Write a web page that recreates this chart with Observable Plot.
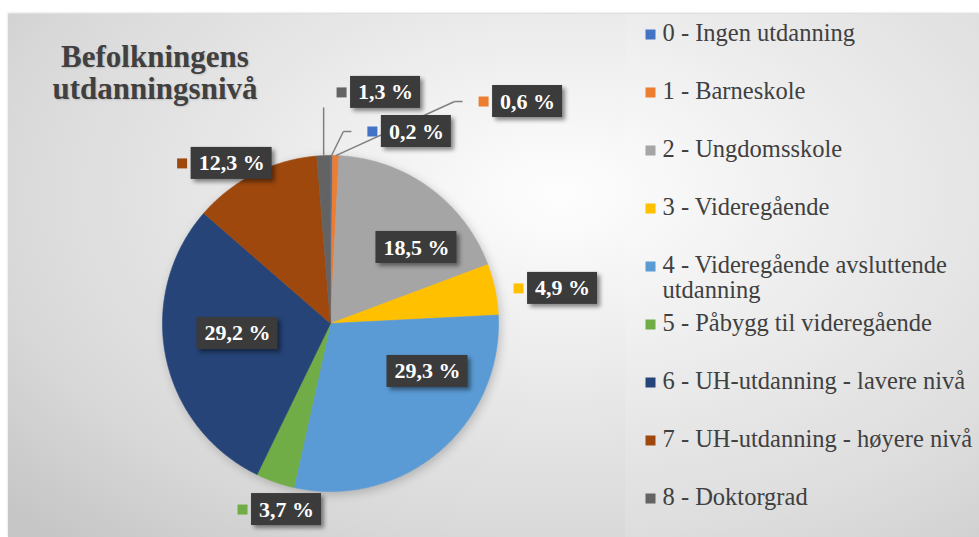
<!DOCTYPE html>
<html>
<head>
<meta charset="utf-8">
<script src="https://cdn.jsdelivr.net/npm/d3@7"></script>
<script src="https://cdn.jsdelivr.net/npm/@observablehq/plot@0.6"></script>
<style>
  html, body { margin: 0; padding: 0; background: #fff; }
  #chart { position: relative; width: 979px; height: 537px; overflow: hidden; background: #fff; }
  #panel {
    position: absolute; left: 8px; top: 14px; width: 971px; height: 523px;
    background: radial-gradient(ellipse 680px 420px at 552px 180px, #fefefe 0%, #f4f4f4 22%, #e6e6e6 52%, #d9d9d9 82%, #c6c6c6 110%);
    box-shadow: 0 -1px 2px rgba(0,0,0,0.18);
  }
  #legendbg { position: absolute; left: 625px; top: 14px; width: 354px; height: 523px; background: rgba(255,255,255,0.12); }
  #title {
    position: absolute; left: 50px; top: 41px; width: 210px; text-align: center;
    font: bold 31px "Liberation Serif", "Times New Roman", serif; line-height: 32px; color: #404040;
    text-shadow: 1px 1px 2px rgba(0,0,0,0.15);
  }
  #chart svg { position: absolute; left: 0; top: 0; }
  #chart svg g[aria-label="rect"] rect { filter: drop-shadow(3px 3px 2px rgba(0,0,0,0.45)); }
  #chart svg g[aria-label="line"] { filter: drop-shadow(2px 3px 5px rgba(0,0,0,0.2)); }
</style>
</head>
<body>
<div id="chart">
  <div id="panel"></div>
  <div id="legendbg"></div>
  <div id="title">Befolkningens<br>utdanningsnivå</div>
</div>
<script>
// ---- data ----
const categories = [
  "0 - Ingen utdanning",
  "1 - Barneskole",
  "2 - Ungdomsskole",
  "3 - Videregående",
  "4 - Videregående avsluttende utdanning",
  "5 - Påbygg til videregående",
  "6 - UH-utdanning - lavere nivå",
  "7 - UH-utdanning - høyere nivå",
  "8 - Doktorgrad"
];
const shares = [0.2, 0.6, 18.5, 4.9, 29.3, 3.7, 29.2, 12.3, 1.3];
const valueLabels = ["0,2 %", "0,6 %", "18,5 %", "4,9 %", "29,3 %", "3,7 %", "29,2 %", "12,3 %", "1,3 %"];
const colors = ["#4472C4", "#ED7D31", "#A5A5A5", "#FFC000", "#5B9BD5", "#70AD47", "#264478", "#9E480E", "#636363"];

// label placement: angle (deg, clockwise from 12 o'clock) and distance in pie radii
const labelAngle = [24.1, 41.6, 48.5, 81.4, 116.3, 193.3, 263.9, 328.3, 13.4];
const labelDist  = [1.252, 1.767, 0.683, 1.397, 0.644, 1.138, 0.557, 1.12, 1.414];
const leaderFor = [0, 1, 8];

// ---- layout ----
const W = 979, H = 537;
const cx = 330, cy = 323, R = 168;   // pie centre / radius in px
const K = R;                           // px per data unit

const arcs = d3.pie().sort(null).value(d => d)(shares);
const slices = arcs.map((a, i) => ({cat: categories[i], a0: a.startAngle, a1: a.endAngle, mid: (a.startAngle + a.endAngle) / 2}));

const piePts = slices.flatMap(s => {
  const n = Math.max(2, Math.ceil((s.a1 - s.a0) / 0.01));
  const out = [{cat: s.cat, x: 0, y: 0}];
  for (let j = 0; j <= n; j++) {
    const a = s.a0 + (s.a1 - s.a0) * j / n;
    out.push({cat: s.cat, x: Math.sin(a), y: Math.cos(a)});
  }
  return out;
});

const ctx = document.createElement("canvas").getContext("2d");
ctx.font = "bold 22px 'Liberation Serif'";
const labels = slices.map((s, i) => {
  const a = labelAngle[i] * Math.PI / 180;
  const w = ctx.measureText(valueLabels[i]).width + 15;
  return {cat: s.cat, text: valueLabels[i], x: labelDist[i] * Math.sin(a), y: labelDist[i] * Math.cos(a), hw: w / 2 / K, hh: 16 / K, mid: s.mid, i};
});

const leaders = [];
for (const i of leaderFor) {
  const L = labels[i];
  const sx = Math.sin(L.mid), sy = Math.cos(L.mid);
  if (i === 8) {
    leaders.push({x1: sx, y1: sy, x2: sx, y2: L.y - 15 / K});
  } else {
    const ex = L.x - L.hw - 30 / K, ey = L.y;
    const bx = ex - 8 / K;
    leaders.push({x1: sx, y1: sy, x2: bx, y2: ey});
    leaders.push({x1: bx, y1: ey, x2: ex, y2: ey});
  }
}

const pie = Plot.plot({
  width: W, height: H, margin: 0,
  style: {background: "transparent", overflow: "visible"},
  x: {domain: [-1, 1], range: [cx - R, cx + R], axis: null},
  y: {domain: [-1, 1], range: [cy + R, cy - R], axis: null},
  color: {type: "ordinal", domain: categories, range: colors},
  marks: [
    Plot.line(piePts, {x: "x", y: "y", z: "cat", fill: "cat", stroke: "cat", strokeWidth: 0.6, curve: "linear-closed"}),
    Plot.link(leaders, {x1: "x1", y1: "y1", x2: "x2", y2: "y2", stroke: "#7f7f7f", strokeWidth: 1.5}),
    Plot.rect(labels, {x1: d => d.x - d.hw, x2: d => d.x + d.hw, y1: d => d.y - d.hh, y2: d => d.y + d.hh, fill: "#3b3b3b"}),
    Plot.dot(labels, {x: d => d.x - d.hw - 9 / K, y: "y", fill: "cat", symbol: "square", r: 10 / Math.sqrt(Math.PI)}),
    Plot.text(labels, {x: "x", y: "y", text: "text", fill: "white", fontSize: 22, fontWeight: "bold", fontFamily: "'Liberation Serif', 'Times New Roman', serif"})
  ]
});

const legend = Plot.plot({
  width: W, height: H,
  marginLeft: 650, marginRight: 0, marginTop: 0, marginBottom: 0,
  style: {background: "transparent", overflow: "visible"},
  y: {type: "point", domain: categories, range: [30, 500], padding: 0, axis: null},
  color: {type: "ordinal", domain: categories, range: colors},
  marks: [
    Plot.dot(categories, {frameAnchor: "left", y: d => d, dy: 1, fill: d => d, symbol: "square", r: 10 / Math.sqrt(Math.PI)}),
    Plot.text(categories, {frameAnchor: "left", y: d => d, text: d => d, dx: 12, dy: -9.6, textAnchor: "start", lineAnchor: "top", lineWidth: 16.5, lineHeight: 1,
      fill: "#404040", fontSize: 24.5, fontFamily: "'Liberation Serif', 'Times New Roman', serif"})
  ]
});

const chart = document.getElementById("chart");
chart.insertBefore(pie, document.getElementById("title"));
chart.appendChild(legend);
</script>
</body>
</html>
